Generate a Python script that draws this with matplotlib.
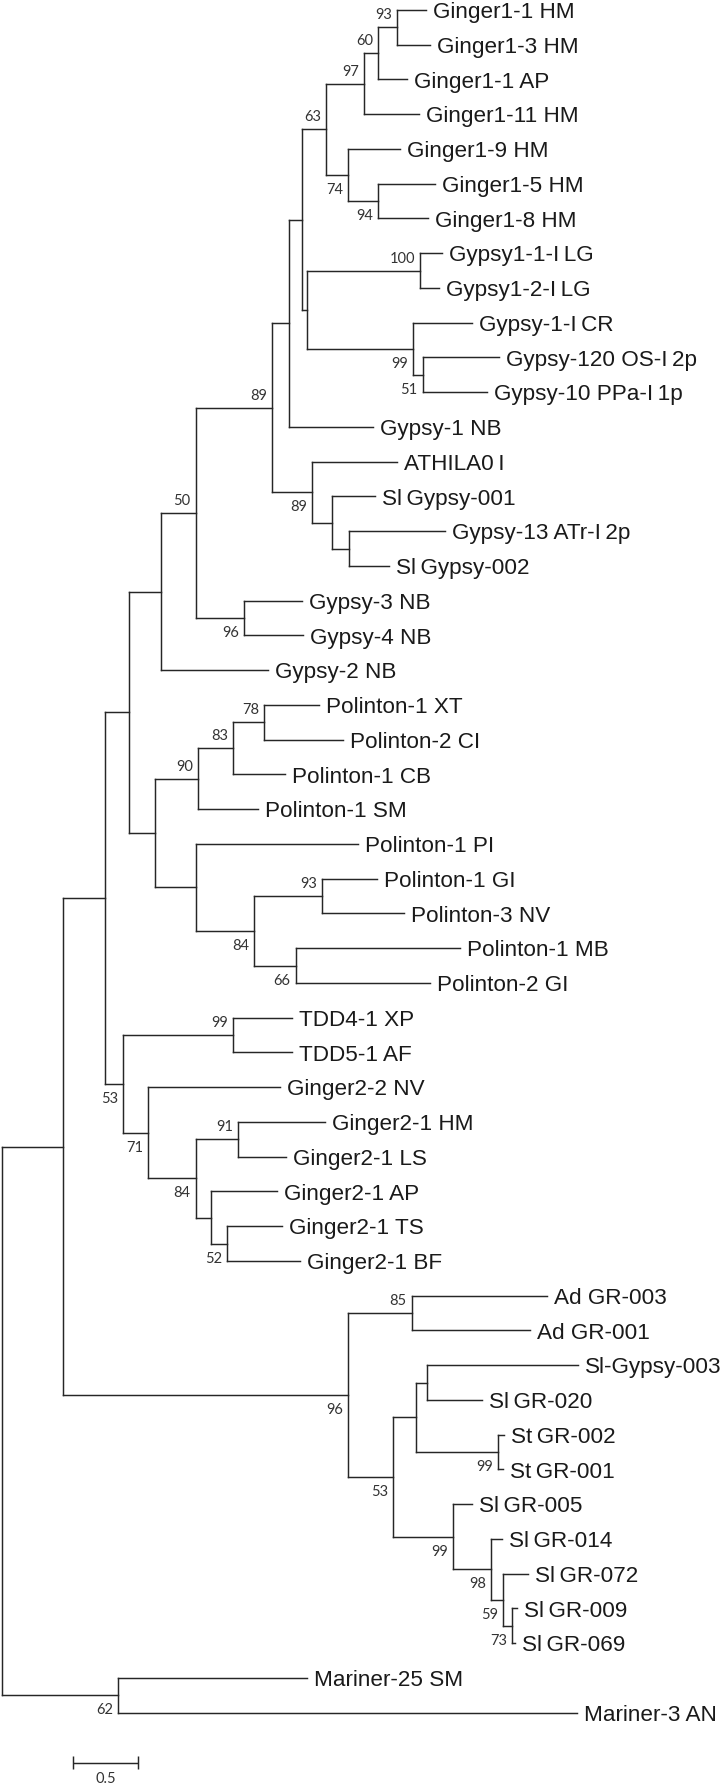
import matplotlib
matplotlib.use("Agg")
import matplotlib.pyplot as plt

T = "\u2009"  # narrow gap used inside some names

# leaves, top to bottom, and their distance from the root (subst./site)
taxa = ["Ginger1-1 HM", "Ginger1-3 HM", "Ginger1-1 AP", "Ginger1-11 HM",
        "Ginger1-9 HM", "Ginger1-5 HM", "Ginger1-8 HM",
        "Gypsy1-1-I" + T + "LG", "Gypsy1-2-I" + T + "LG", "Gypsy-1-I" + T + "CR",
        "Gypsy-120 OS-I" + T + "2p", "Gypsy-10 PPa-I" + T + "1p", "Gypsy-1 NB",
        "ATHILA0" + T + "I", "Sl" + T + "Gypsy-001", "Gypsy-13 ATr-I" + T + "2p",
        "Sl" + T + "Gypsy-002",
        "Gypsy-3 NB", "Gypsy-4 NB", "Gypsy-2 NB",
        "Polinton-1 XT", "Polinton-2 CI", "Polinton-1 CB", "Polinton-1 SM",
        "Polinton-1 PI", "Polinton-1 GI", "Polinton-3 NV", "Polinton-1 MB",
        "Polinton-2 GI", "TDD4-1 XP", "TDD5-1 AF", "Ginger2-2 NV",
        "Ginger2-1 HM", "Ginger2-1 LS", "Ginger2-1 AP", "Ginger2-1 TS",
        "Ginger2-1 BF", "Ad GR-003", "Ad GR-001", "Sl-Gypsy-003",
        "Sl" + T + "GR-020", "St" + T + "GR-002", "St" + T + "GR-001",
        "Sl" + T + "GR-005", "Sl" + T + "GR-014", "Sl" + T + "GR-072",
        "Sl" + T + "GR-009", "Sl" + T + "GR-069", "Mariner-25 SM", "Mariner-3 AN"]
taxon_depth = [3.228, 3.261, 3.084, 3.180, 3.033, 3.299, 3.248,
               3.350, 3.332, 3.578, 3.788, 3.693, 2.830,
               3.008, 2.842, 3.375, 2.951, 2.289, 2.297, 2.030,
               2.419, 2.601, 2.158, 1.954, 2.715, 2.855, 3.063, 3.489,
               3.261, 2.209, 2.209, 2.120, 2.462, 2.165, 2.094, 2.132,
               2.272, 4.154, 4.022, 4.390, 3.654, 3.824, 3.814, 3.578,
               3.807, 4.009, 3.925, 3.908, 2.325, 4.380]

# internal nodes (children listed before parents); leaves given by row index
clade = ["g93", "g60", "g97", "g94", "g74", "g63", "y100", "y51", "y99",
         "ya", "yb", "yc", "sa", "sb", "s89", "y89", "y96", "y50", "yd",
         "p78", "p83", "p90", "p93", "p66", "p84", "pa", "pb", "yp",
         "t99", "k91", "k52", "ka", "k84", "k71", "t53", "ypt",
         "r85", "ra", "r99a", "rb", "r73", "r59", "r98", "r99b", "r53", "r96",
         "core", "m62", "root"]
kids = [(0, 1), ("g93", 2), ("g60", 3), (5, 6), (4, "g94"), ("g97", "g74"),
        (7, 8), (10, 11), (9, "y51"), ("y100", "y99"), ("g63", "ya"),
        ("yb", 12), (15, 16), (14, "sa"), (13, "sb"), ("yc", "s89"),
        (17, 18), ("y89", "y96"), ("y50", 19),
        (20, 21), ("p78", 22), ("p83", 23), (25, 26), (27, 28),
        ("p93", "p66"), (24, "p84"), ("p90", "pa"), ("yd", "pb"),
        (29, 30), (32, 33), (35, 36), (34, "k52"), ("k91", "ka"),
        (31, "k84"), ("t99", "k71"), ("yp", "t53"),
        (37, 38), (39, 40), (41, 42), ("ra", "r99a"), (46, 47), (45, "r73"),
        (44, "r59"), (43, "r98"), ("rb", "r99b"), ("r85", "r53"),
        ("ypt", "r96"), (48, 49), ("core", "m62")]
clade_depth = [3.008, 2.868, 2.761, 2.868, 2.639, 2.470, 3.185, 3.205, 3.134,
               2.327, 2.289, 2.189, 2.647, 2.517, 2.361, 2.056, 1.846, 1.478,
               1.212, 1.998, 1.764, 1.498, 2.441, 2.239, 1.922, 1.480, 1.170,
               0.973, 1.759, 1.800, 1.716, 1.594, 1.478, 1.117, 0.925, 0.788,
               3.122, 3.236, 3.776, 3.152, 3.887, 3.814, 3.723, 3.438, 2.982,
               2.635, 0.466, 0.887, 0.0]
bootstrap = [93, 60, 97, 94, 74, 63, 100, 51, 99,
             None, None, None, None, None, 89, 89, 96, 50, None,
             78, 83, 90, 93, 66, 84, None, None, None,
             99, 91, 52, None, 84, 71, 53, None,
             85, None, 99, None, 73, 59, 98, 99, 53, 96,
             None, 62, None]
boot_side = ["up", "up", "up", "dn", "dn", "up", "up", "dn", "dn",
             "", "", "", "", "", "dn", "up", "dn", "up", "",
             "up", "up", "up", "up", "dn", "dn", "", "", "",
             "up", "up", "dn", "", "dn", "dn", "dn", "",
             "up", "", "dn", "", "dn", "dn", "dn", "dn", "dn", "dn",
             "", "dn", ""]
scale_len = 0.5

PX = 131.4      # pixels per unit of branch length
ROW = 34.75     # pixels between leaves
line_col = "#262626"

fig = plt.figure(figsize=(7.2, 17.86), dpi=100)
ax = fig.add_axes([0, 0, 1, 1])
ax.set_xlim(-1.5 / PX, (720 - 1.5) / PX)
ax.set_ylim((1786 - 10) / ROW, -10 / ROW)
ax.axis("off")

xpos = {i: d for i, d in enumerate(taxon_depth)}
ypos = {i: float(i) for i in range(len(taxa))}
for name, ch, d in zip(clade, kids, clade_depth):
    xpos[name] = d
    ypos[name] = (ypos[ch[0]] + ypos[ch[-1]]) / 2.0

# branches
for name, ch in zip(clade, kids):
    x = xpos[name]
    ax.vlines(x, ypos[ch[0]], ypos[ch[-1]], color=line_col, lw=1.05,
              capstyle="projecting")
    for c in ch:
        ax.hlines(ypos[c], x, xpos[c], color=line_col, lw=1.05,
                  capstyle="projecting")

# leaf names
for i, t in enumerate(taxa):
    ax.text(xpos[i] + 7 / PX, ypos[i] + 0.235, t, ha="left", va="baseline",
            fontsize=16.2, family=["Liberation Sans", "DejaVu Sans"],
            color="#1a1a1a")

# bootstrap support
for name, b, side in zip(clade, bootstrap, boot_side):
    if b is None:
        continue
    dy = -0.345 if side == "up" else 0.43
    ax.text(xpos[name] - 5 / PX, ypos[name] + dy, str(b), ha="right",
            va="center", fontsize=10.5, family=["Lato", "DejaVu Sans"],
            color="#333333")

# scale bar
x0 = (72.7 - 1.5) / PX
yb = (1763 - 10) / ROW
tick = 6.5 / ROW
ax.hlines(yb, x0, x0 + scale_len, color=line_col, lw=1.05)
ax.vlines([x0, x0 + scale_len], yb - tick, yb + tick, color=line_col, lw=1.05)
ax.text(x0 + scale_len / 2, (1779 - 10) / ROW, str(scale_len), ha="center",
        va="center", fontsize=10.5, family=["Lato", "DejaVu Sans"],
        color="#333333")

fig.savefig("out.png", dpi=100)
